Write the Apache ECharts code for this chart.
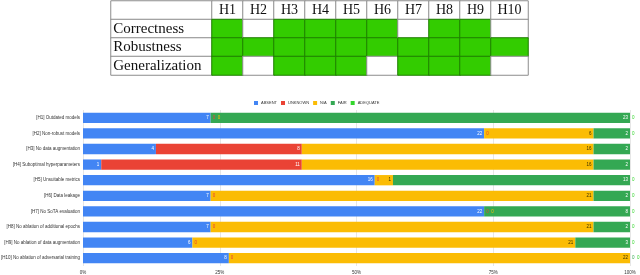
<!DOCTYPE html>
<html>
<head>
<meta charset="utf-8">
<script src="https://cdn.jsdelivr.net/npm/echarts@6/dist/echarts.min.js"></script>
<style>html,body{margin:0;padding:0;background:#fff}#c{width:640px;height:275px}</style>
</head>
<body>
<div id="c"></div>
<script>
// ---- Table data ----
const hypotheses = ['H1','H2','H3','H4','H5','H6','H7','H8','H9','H10'];
const properties = ['Correctness','Robustness','Generalization'];
const correctness    = [1,0,1,1,1,1,0,1,1,0];
const robustness     = [1,1,1,1,1,1,1,1,1,1];
const generalization = [1,0,1,1,1,0,1,1,1,0];

// ---- Bar chart data ----
const categories = [
  '[H1] Outdated models',
  '[H2] Non-robust models',
  '[H3] No data augmentation',
  '[H4] Suboptimal hyperparameters',
  '[H5] Unsuitable metrics',
  '[H6] Data leakage',
  '[H7] No SoTA evaluation',
  '[H8] No ablation of additional epochs',
  '[H9] No ablation of data augmentation',
  '[H10] No ablation of adversarial training'
];
const seriesNames = ['ABSENT','UNKNOWN','N/A','FAIR','ADEQUATE'];
const absent   = [7,22,4,1,16,7,22,7,6,8];
const unknown  = [0,0,8,11,0,0,0,0,0,0];
const na       = [0,6,16,16,1,21,0,21,21,22];
const fair     = [23,2,2,2,13,2,8,2,3,0];
const adequate = [0,0,0,0,0,0,0,0,0,0];
const xTicks = ['0%','25%','50%','75%','100%'];

// ---- styles ----
const colors = ['#4285f4','#ea4335','#fbbc04','#34a853','#33d62c'];
const labelColors = ['#fff','#fff','#3a3000','#fff','#fff'];
const GREEN = '#33cc00';
const serif = '"Liberation Serif", "DejaVu Serif", serif';
const sans = '"Liberation Sans", Arial, sans-serif';

const chart = echarts.init(document.getElementById('c'), null, {renderer:'canvas'});

const rowsData = [correctness, robustness, generalization];
const rowNames = ['hdr'].concat(properties);

function tableCells(colStart, colEnd) {
  const out = [];
  for (let c = colStart; c < colEnd; c++) {
    const xi = c - colStart;
    out.push({value:[xi,0,0], txt:hypotheses[c], itemStyle:{color:'#fff', borderColor:'#8c8c8c', borderWidth:1}});
    rowsData.forEach((arr, r) => {
      const on = arr[c] === 1;
      out.push({value:[xi,r+1,arr[c]], txt:'', itemStyle:{color: on ? GREEN : '#fff', borderColor: on ? '#1f7f00' : '#8c8c8c', borderWidth:1}});
    });
  }
  return out;
}
const labelCells = [{value:[0,0,0], txt:'', itemStyle:{color:'#fff',borderColor:'#8c8c8c',borderWidth:1}}]
  .concat(properties.map((p,i)=>({value:[0,i+1,0], txt:p, itemStyle:{color:'#fff',borderColor:'#8c8c8c',borderWidth:1}})));

const hmLabel = {show:true, formatter:p=>p.data.txt, fontFamily:serif, fontSize:14, color:'#111'};

function catX(n, gi){ return {type:'category', gridIndex:gi, data:Array.from({length:n},(_, i)=>i), show:false}; }
function catY(gi){ return {type:'category', gridIndex:gi, data:rowNames, inverse:true, show:false}; }

// ---- bar data (percent of row total) ----
const seriesRaw = [absent, unknown, na, fair, adequate];
const totals = categories.map((_, i) => seriesRaw.reduce((s, a) => s + a[i], 0));

const barSeries = seriesRaw.map((arr, s) => ({
  type:'bar', name:seriesNames[s], stack:'total', xAxisIndex:3, yAxisIndex:3,
  barCategoryGap:'34%',
  itemStyle:{color:colors[s]},
  label:{show:true, position:'insideRight', distance:2, fontSize:4.5, fontFamily:sans, color:labelColors[s],
         formatter:p=>String(arr[p.dataIndex])},
  data: arr.map((v, i) => {
    const item = {value: v / totals[i] * 100};
    if (v === 0) {
      let k = 0;
      for (let t = s - 1; t >= 0 && seriesRaw[t][i] === 0; t--) k++;
      item.label = {position:'right', distance:2 + k*5, color:colors[s]};
    }
    return item;
  })
}));

const G = {outerBoundsMode:'none', containLabel:false};
chart.setOption({
  animation:false,
  grid:[
    Object.assign({left:111, top:1, width:101, height:74}, G),
    Object.assign({left:212, top:1, width:279, height:74}, G),
    Object.assign({left:491, top:1, width:37, height:74}, G),
    Object.assign({left:83, top:110, width:547, height:156}, G)
  ],
  xAxis:[
    catX(1,0), catX(9,1), catX(1,2),
    {type:'value', gridIndex:3, min:0, max:100, interval:25,
     axisLine:{show:false}, axisTick:{show:false},
     splitLine:{show:true, lineStyle:{color:'#e6e6e6', width:1}},
     axisLabel:{fontSize:4.5, fontFamily:sans, color:'#333', margin:4, formatter:v=>xTicks[v/25]}}
  ],
  yAxis:[
    catY(0), catY(1), catY(2),
    {type:'category', gridIndex:3, data:categories, inverse:true,
     axisLine:{show:false}, axisTick:{show:false},
     axisLabel:{fontSize:4.5, fontFamily:sans, color:'#333', margin:3}}
  ],
  legend:{top:96, left:249, itemWidth:4, itemHeight:4, itemGap:4, icon:'rect',
          textStyle:{fontSize:4, fontFamily:sans, color:'#333', padding:[0,0,0,-2]},
          data:seriesNames},
  color:colors,
  series:[
    {type:'heatmap', xAxisIndex:0, yAxisIndex:0, data:labelCells,
     label:Object.assign({}, hmLabel, {position:'insideLeft', distance:3, fontSize:15})},
    {type:'heatmap', xAxisIndex:1, yAxisIndex:1, data:tableCells(0,9), label:hmLabel},
    {type:'heatmap', xAxisIndex:2, yAxisIndex:2, data:tableCells(9,10), label:hmLabel}
  ].concat(barSeries)
});
</script>
</body>
</html>
